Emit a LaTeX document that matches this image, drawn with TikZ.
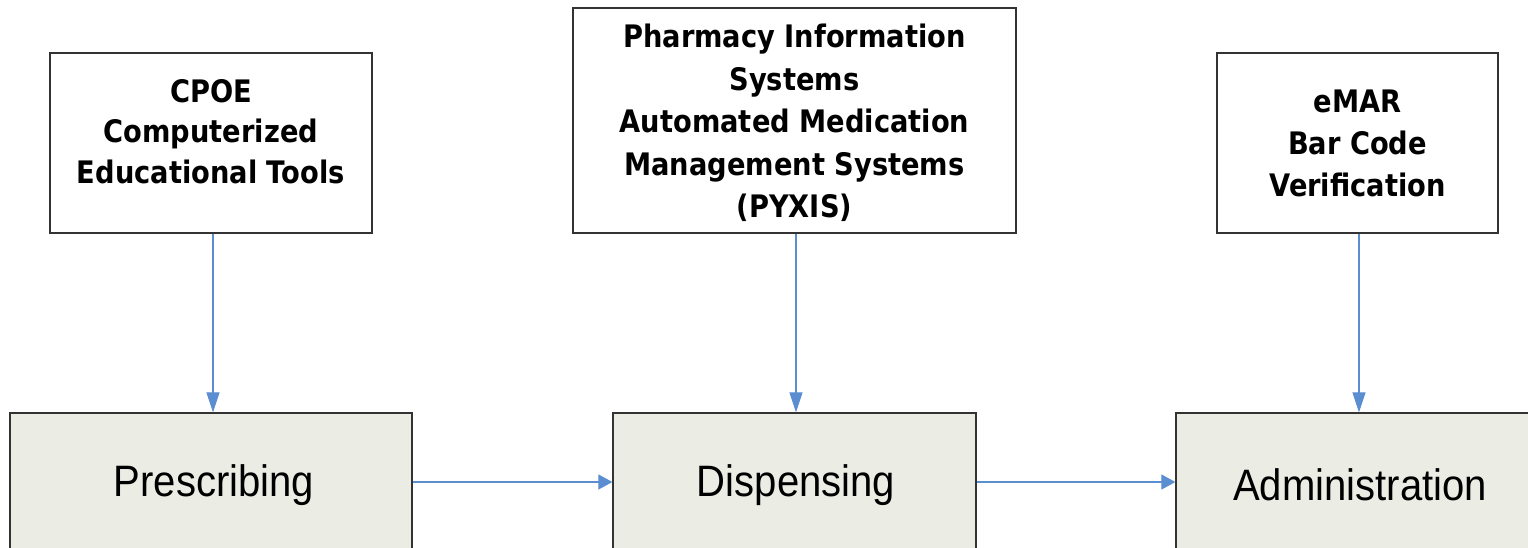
\documentclass[tikz,border=0pt]{standalone}
\usepackage{fontspec}
\setmainfont{Liberation Sans}
\newfontfamily\topfont[FakeStretch=0.88]{DejaVu Sans}
\newfontfamily\stagefont[FakeStretch=0.91]{Liberation Sans}
\usetikzlibrary{arrows.meta}
\definecolor{arrowblue}{HTML}{5B8ED0}
\definecolor{boxfill}{HTML}{EBEDE5}
\definecolor{boxline}{HTML}{333333}
\tikzset{
  topbox/.style={draw=boxline, line width=1.3pt, fill=white, inner sep=0pt},
  stagebox/.style={draw=boxline, line width=1.3pt, fill=boxfill, inner sep=0pt},
  toptext/.style={inner sep=0pt, align=center, anchor=north, font=\topfont\bfseries\fontsize{31}{42}\selectfont},
  stagetext/.style={inner sep=0pt, font=\stagefont\fontsize{44}{50}\selectfont},
  vflow/.style={draw=arrowblue, line width=1.2pt, -{Triangle[length=20pt,width=13pt]}},
  hflow/.style={draw=arrowblue, line width=1.2pt, -{Triangle[length=14pt,width=15pt]}}
}
\begin{document}
\begin{tikzpicture}[x=1pt,y=-1pt]
\useasboundingbox (0,0) rectangle (1528,548);
\clip (0,0) rectangle (1528,548);
% top boxes
\node[topbox, minimum width=322pt, minimum height=180pt] (cpoe) at (211,143) {};
\node[topbox, minimum width=443pt, minimum height=225pt] (pharm) at (794.5,120.5) {};
\node[topbox, minimum width=281pt, minimum height=180pt] (emar) at (1357.5,143) {};
\node[toptext, font=\topfont\bfseries\fontsize{31}{40.5}\selectfont] (cpoetxt) at (211,79) {CPOE\\Computerized\\Educational Tools};
\node[toptext, font=\topfont\bfseries\fontsize{31}{42.5}\selectfont] (pharmtxt) at (794.5,24) {Pharmacy Information\\Systems\\Automated Medication\\Management Systems\\(PYXIS)};
\node[toptext] (emartxt) at (1357.5,90) {eMAR\\Bar Code\\Verification};
% stage boxes
\node[stagebox, minimum width=402pt, minimum height=138pt] (presc) at (211,482) {};
\node[stagebox, minimum width=363pt, minimum height=138pt] (disp) at (794.5,482) {};
\node[stagebox, minimum width=368pt, minimum height=138pt] (admin) at (1360,482) {};
\node[stagetext] (presctxt) at (214,485) {Prescribing};
\node[stagetext] (disptxt) at (796,485) {Dispensing};
\node[stagetext] (admintxt) at (1360,485) {Administration};
% connectors
\draw[vflow] (cpoe.south -| 213,0) -- (presc.north -| 213,0);
\draw[vflow] (pharm.south -| 796,0) -- (disp.north -| 796,0);
\draw[vflow] (emar.south -| 1359,0) -- (admin.north -| 1359,0);
\draw[hflow] (presc.east |- 0,482) -- (disp.west |- 0,482);
\draw[hflow] (disp.east |- 0,482) -- (admin.west |- 0,482);
\end{tikzpicture}
\end{document}
